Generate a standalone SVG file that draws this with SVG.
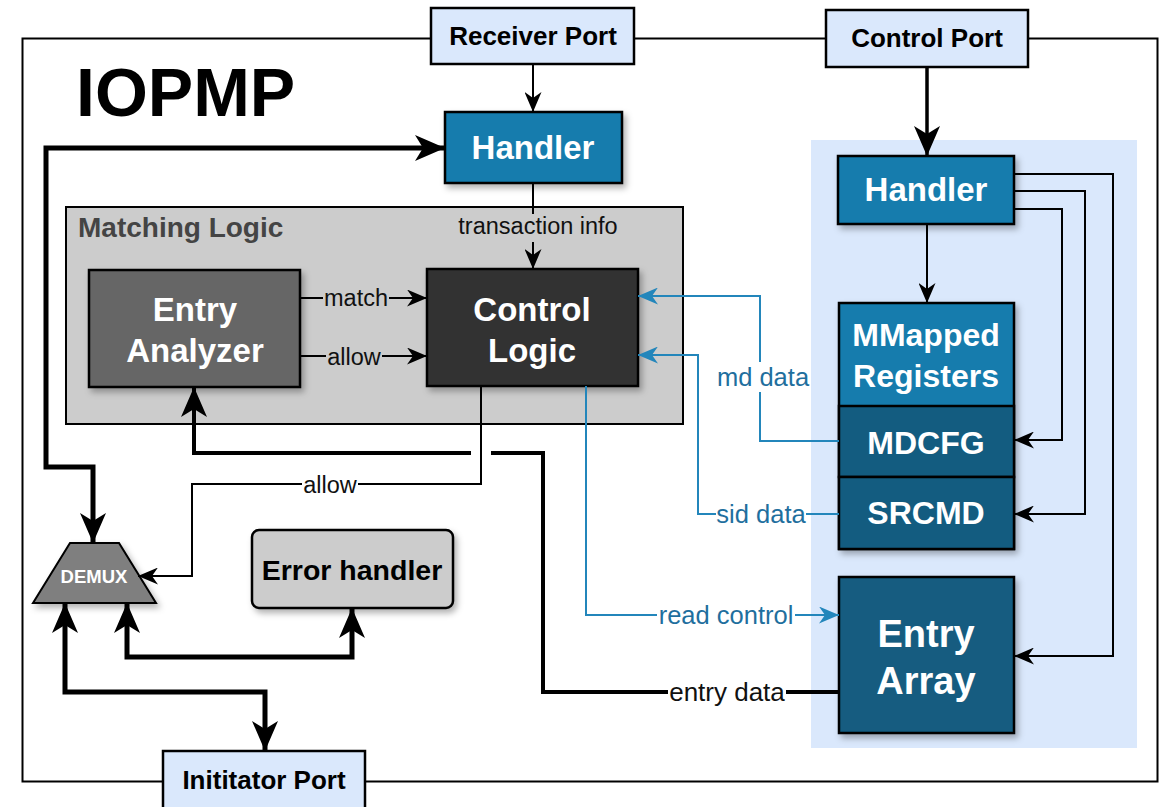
<svg xmlns="http://www.w3.org/2000/svg" width="1167" height="807" viewBox="0 0 1167 807">
<style>
text{font-family:"Liberation Sans",Arial,sans-serif}
.b{font-weight:bold}
.w{fill:#ffffff}
.box{stroke:#000;stroke-width:2.5}
.port{fill:#dae8fc;stroke:#000;stroke-width:2.5}
.blue{fill:#177bad}
.dblue{fill:#135c80}
.lbl{font-size:23.5px;fill:#111}
.blbl{font-size:25.5px;fill:#1f6f9e}
.thin{fill:none;stroke:#000;stroke-width:2}
.bl{fill:none;stroke:#2386bb;stroke-width:2}
.thick{fill:none;stroke:#000;stroke-width:5}
</style>
<defs>
<marker id="at" markerUnits="userSpaceOnUse" viewBox="0 0 20 17" refX="20" refY="8.5" markerWidth="20" markerHeight="17" orient="auto-start-reverse"><path d="M0,0 L20,8.5 L0,17 L6,8.5 z" fill="#000"/></marker>
<marker id="ab" markerUnits="userSpaceOnUse" viewBox="0 0 20 17" refX="20" refY="8.5" markerWidth="20" markerHeight="17" orient="auto-start-reverse"><path d="M0,0 L20,8.5 L0,17 L6,8.5 z" fill="#2386bb"/></marker>
<marker id="ak" markerUnits="userSpaceOnUse" viewBox="0 0 30 26" refX="30" refY="13" markerWidth="30" markerHeight="26" orient="auto-start-reverse"><path d="M0,0 L30,13 L0,26 L8,13 z" fill="#000"/></marker>
<filter id="sh" x="-20%" y="-20%" width="150%" height="150%"><feDropShadow dx="3" dy="4" stdDeviation="3" flood-color="#000" flood-opacity="0.3"/></filter>
</defs>
<rect width="1167" height="807" fill="#ffffff"/>
<g id="frame"><rect x="22.5" y="38.5" width="1135" height="743" fill="none" stroke="#000" stroke-width="2"/></g>
<g id="title"><text x="76" y="116" class="b" font-size="68">IOPMP</text></g>
<g id="region"><rect x="811" y="140" width="326" height="608" fill="#dae8fc"/></g>
<g id="matching-logic"><rect x="66" y="207" width="617" height="217" fill="#cccccc" stroke="#000" stroke-width="2"/><text x="78" y="237" class="b" font-size="28" fill="#444444">Matching Logic</text></g>
<g id="receiver-port"><rect class="port" x="431" y="8" width="203" height="56"/><text x="533" y="45" class="b" font-size="26" text-anchor="middle">Receiver Port</text></g>
<g id="control-port"><rect class="port" x="826" y="10" width="202" height="57"/><text x="927" y="47" class="b" font-size="26" text-anchor="middle">Control Port</text></g>
<g id="initiator-port"><rect class="port" x="163" y="751" width="202" height="70"/><text x="264" y="789" class="b" font-size="26" text-anchor="middle">Inititator Port</text></g>
<g id="handler1"><rect class="box blue" x="445" y="112" width="177" height="71" filter="url(#sh)"/><text x="533" y="159" class="b w" font-size="33" text-anchor="middle">Handler</text></g>
<g id="entry-analyzer"><rect class="box" fill="#666666" x="89" y="270" width="211" height="117" filter="url(#sh)"/><text class="b w" font-size="33" text-anchor="middle"><tspan x="195" y="321">Entry</tspan><tspan x="195" y="362">Analyzer</tspan></text></g>
<g id="control-logic"><rect class="box" fill="#333333" x="427" y="269" width="211" height="117" filter="url(#sh)"/><text class="b w" font-size="33" text-anchor="middle"><tspan x="532" y="321">Control</tspan><tspan x="532" y="362">Logic</tspan></text></g>
<g id="handler2"><rect class="box blue" x="838" y="156" width="176" height="68" filter="url(#sh)"/><text x="926" y="201" class="b w" font-size="33" text-anchor="middle">Handler</text></g>
<g id="mmapped-registers"><rect class="box blue" x="839" y="303" width="175" height="246" filter="url(#sh)"/><text class="b w" font-size="32" text-anchor="middle"><tspan x="926" y="346">MMapped</tspan><tspan x="926" y="387">Registers</tspan></text></g>
<g id="mdcfg"><rect class="box dblue" x="839" y="406" width="175" height="71"/><text x="926" y="454" class="b w" font-size="32" text-anchor="middle">MDCFG</text></g>
<g id="srcmd"><rect class="box dblue" x="839" y="477" width="175" height="72"/><text x="926" y="524" class="b w" font-size="32" text-anchor="middle">SRCMD</text></g>
<g id="entry-array"><rect class="box dblue" x="839" y="577" width="175" height="156" filter="url(#sh)"/><text class="b w" font-size="38" text-anchor="middle"><tspan x="926" y="647">Entry</tspan><tspan x="926" y="694">Array</tspan></text></g>
<g id="error-handler"><rect class="box" fill="#cccccc" x="252" y="530" width="201" height="78" rx="7" filter="url(#sh)"/><text x="352" y="580" class="b" font-size="28.5" text-anchor="middle">Error handler</text></g>
<g id="demux"><path d="M70,543 L119,543 L156,603 L33,603 Z" fill="#7f7f7f" stroke="#000" stroke-width="2" filter="url(#sh)"/><text x="94" y="583" class="b w" font-size="18.5" text-anchor="middle">DEMUX</text></g>
<g id="connectors">
<path class="thin" d="M533,64 V112" marker-end="url(#at)"/>
<path class="thin" d="M533,183 V269" marker-end="url(#at)"/>
<rect x="457" y="214" width="163" height="28" fill="#cccccc"/>
<text x="538" y="234" class="lbl" text-anchor="middle">transaction info</text>
<path d="M927,67 V156" fill="none" stroke="#000" stroke-width="3.5" marker-end="url(#ak)"/>
<path class="thin" d="M927,224 V303" marker-end="url(#at)"/>
<path class="thin" d="M1014,209 H1062 V440 H1014" marker-end="url(#at)"/>
<path class="thin" d="M1014,191 H1085 V514 H1014" marker-end="url(#at)"/>
<path class="thin" d="M1014,174 H1113 V656 H1014" marker-end="url(#at)"/>
<path class="thin" d="M300,298 H427" marker-end="url(#at)"/>
<rect x="323" y="285" width="66" height="26" fill="#cccccc"/>
<text x="356" y="306" class="lbl" text-anchor="middle">match</text>
<path class="thin" d="M300,356 H427" marker-end="url(#at)"/>
<rect x="326" y="343" width="56" height="26" fill="#cccccc"/>
<text x="354" y="365" class="lbl" text-anchor="middle">allow</text>
<path class="bl" d="M839,441 H760 V296 H638" marker-end="url(#ab)"/>
<rect x="716" y="362" width="94" height="30" fill="#ffffff"/>
<text x="763" y="386" class="blbl" text-anchor="middle">md data</text>
<path class="bl" d="M839,514 H698 V355 H638" marker-end="url(#ab)"/>
<rect x="716" y="500" width="90" height="28" fill="#ffffff"/>
<text x="761" y="523" class="blbl" text-anchor="middle">sid data</text>
<path class="bl" d="M586,386 V615 H839" marker-end="url(#ab)"/>
<rect x="657" y="601" width="138" height="28" fill="#ffffff"/>
<text x="726" y="624" class="blbl" text-anchor="middle">read control</text>
<path d="M839,692 H543 V453 H491" fill="none" stroke="#000" stroke-width="4"/>
<path d="M471,453 H194 V387" fill="none" stroke="#000" stroke-width="4" marker-end="url(#ak)"/>
<rect x="668" y="678" width="118" height="28" fill="#ffffff"/>
<text x="727" y="701" font-size="26" fill="#111" text-anchor="middle">entry data</text>
<path class="thin" d="M481,386 V484 H192 V576 H138" marker-end="url(#at)"/>
<rect x="302" y="471" width="56" height="26" fill="#ffffff"/>
<text x="330" y="493" class="lbl" text-anchor="middle">allow</text>
<path class="thick" d="M93,543 V467 H46 V148 H445" marker-start="url(#ak)" marker-end="url(#ak)"/>
<path class="thick" d="M127,603 V657 H352 V608" marker-start="url(#ak)" marker-end="url(#ak)"/>
<path class="thick" d="M65,603 V692 H265 V751" marker-start="url(#ak)" marker-end="url(#ak)"/>
</g>
</svg>
